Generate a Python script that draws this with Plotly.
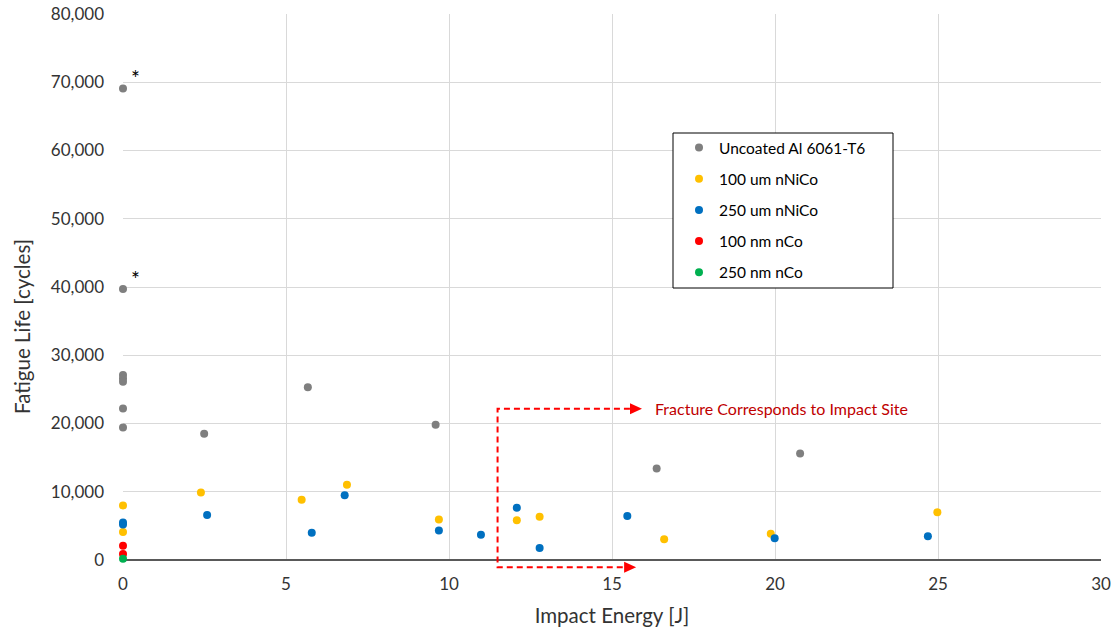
import plotly.graph_objects as go

# ---- data ----
uncoated_x = [0, 0, 0, 0, 0, 0, 0, 2.49, 5.67, 9.59, 16.37, 20.77]
uncoated_y = [69100, 39700, 27100, 26600, 26100, 22200, 19400, 18500, 25300, 19800, 13400, 15600]

nico100_x = [0, 0, 2.39, 5.48, 6.87, 9.69, 12.08, 12.78, 16.6, 19.87, 24.98]
nico100_y = [8000, 4100, 9900, 8830, 11030, 5950, 5810, 6340, 3030, 3850, 6980]

nico250_x = [0, 0, 2.58, 5.79, 6.80, 9.69, 10.98, 12.08, 12.78, 15.47, 19.99, 24.69]
nico250_y = [5500, 5200, 6590, 4000, 9470, 4340, 3710, 7660, 1760, 6440, 3170, 3470]

co100_x = [0, 0]
co100_y = [2090, 880]

co250_x = [0]
co250_y = [200]

series_names = ["Uncoated Al 6061-T6", "100 um nNiCo", "250 um nNiCo", "100 nm nCo", "250 nm nCo"]
series_colors = ["#7F7F7F", "#FFC000", "#0070C0", "#FF0000", "#00B050"]

# fracture region outline (dashed) and arrow tips
box_x = [15.55, 11.49, 11.49, 15.37]
box_y = [22150, 22150, -1070, -1070]
arrow_tip_x = [15.92, 15.74]
arrow_tip_y = [22150, -1070]
note_text = "Fracture Corresponds to Impact Site"
star_y = [69100, 39700]

x_title = "Impact Energy [J]"
y_title = "Fatigue Life [cycles]"

x_range = [0, 30]
y_range = [0, 80000]
x_ticks = [0, 5, 10, 15, 20, 25, 30]
y_ticks = [0, 10000, 20000, 30000, 40000, 50000, 60000, 70000, 80000]

FONT = "Lato"
TEXT = "#333333"
W, H = 1116, 629
M = dict(l=123, r=15, t=14, b=69)
PLOT_W = W - M["l"] - M["r"]
PLOT_H = H - M["t"] - M["b"]
HEAD_LEN, HEAD_HALF = 12, 5.5   # arrowhead size in pixels


def px_(v):
    return (v - x_range[0]) / (x_range[1] - x_range[0])


def py_(v):
    return (v - y_range[0]) / (y_range[1] - y_range[0])


def pix_x(p):
    return (p - M["l"]) / PLOT_W


def pix_y(p):
    return (H - M["b"] - p) / PLOT_H


fig = go.Figure()

data = [(uncoated_x, uncoated_y), (nico100_x, nico100_y), (nico250_x, nico250_y),
        (co100_x, co100_y), (co250_x, co250_y)]
for i, ((xs, ys), name, col) in enumerate(zip(data, series_names, series_colors)):
    fig.add_trace(go.Scatter(x=xs, y=ys, mode="markers", name=name,
                             legendgroup=f"g{i}",
                             marker=dict(color=col, size=8),
                             cliponaxis=False))

# legend frame
shapes = [dict(type="rect", xref="paper", yref="paper",
               x0=pix_x(673), x1=pix_x(893), y0=pix_y(288), y1=pix_y(133),
               fillcolor="white", line=dict(color="#000000", width=1), layer="above")]

# dashed outline in paper coordinates (so it is not clipped below the axis)
path = "M " + " L ".join(f"{px_(x):.5f},{py_(y):.5f}" for x, y in zip(box_x, box_y))
shapes.append(dict(type="path", path=path, xref="paper", yref="paper",
                   line=dict(color="#FF0000", width=2, dash="6px,4px"), layer="above"))
for tx, ty in zip(arrow_tip_x, arrow_tip_y):
    ax_, ay_ = px_(tx), py_(ty)
    dx, dy = HEAD_LEN / PLOT_W, HEAD_HALF / PLOT_H
    tri = f"M {ax_:.5f},{ay_:.5f} L {ax_ - dx:.5f},{ay_ + dy:.5f} L {ax_ - dx:.5f},{ay_ - dy:.5f} Z"
    shapes.append(dict(type="path", path=tri, xref="paper", yref="paper",
                       fillcolor="#FF0000", line=dict(color="#FF0000", width=0), layer="above"))

annotations = []
for sy in star_y:
    annotations.append(dict(x=0, y=sy, xref="x", yref="y", text="*", showarrow=False,
                            xshift=12, yshift=11, font=dict(family=FONT, size=21, color="#000000")))
annotations.append(dict(x=arrow_tip_x[0], y=arrow_tip_y[0], xref="x", yref="y", text=note_text,
                        showarrow=False, xanchor="left", xshift=11, yshift=0,
                        font=dict(family=FONT, size=16, color="#C00000")))
annotations.append(dict(x=pix_x(22), y=pix_y(327), xref="paper", yref="paper", text=y_title,
                        textangle=-90, showarrow=False, xanchor="center", yanchor="middle",
                        font=dict(family=FONT, size=20.5, color=TEXT)))

fig.update_layout(
    width=W, height=H,
    margin=M,
    paper_bgcolor="white", plot_bgcolor="white",
    font=dict(family=FONT, size=17, color=TEXT),
    xaxis=dict(range=x_range, tickvals=x_ticks, showgrid=True, gridcolor="#D9D9D9",
               gridwidth=1, zeroline=False, showline=False, ticks="", automargin=False,
               ticklabelstandoff=12,
               title=dict(text=x_title, font=dict(family=FONT, size=20.5, color=TEXT)),
               tickfont=dict(family=FONT, size=17, color=TEXT)),
    yaxis=dict(range=y_range, tickvals=y_ticks, tickformat=",d", showgrid=True,
               gridcolor="#D9D9D9", gridwidth=1, zeroline=True, zerolinecolor="#595959",
               zerolinewidth=2, showline=False, ticks="", ticklabelstandoff=18, automargin=False,
               tickfont=dict(family=FONT, size=17, color=TEXT)),
    legend=dict(x=pix_x(679), y=pix_y(131), xanchor="left", yanchor="top",
                borderwidth=0, bgcolor="rgba(255,255,255,0)",
                font=dict(family=FONT, size=15.5, color="#000000"),
                tracegroupgap=8, traceorder="grouped", itemwidth=30),
    shapes=shapes,
    annotations=annotations,
    showlegend=True,
)

fig.write_html("out.html")
